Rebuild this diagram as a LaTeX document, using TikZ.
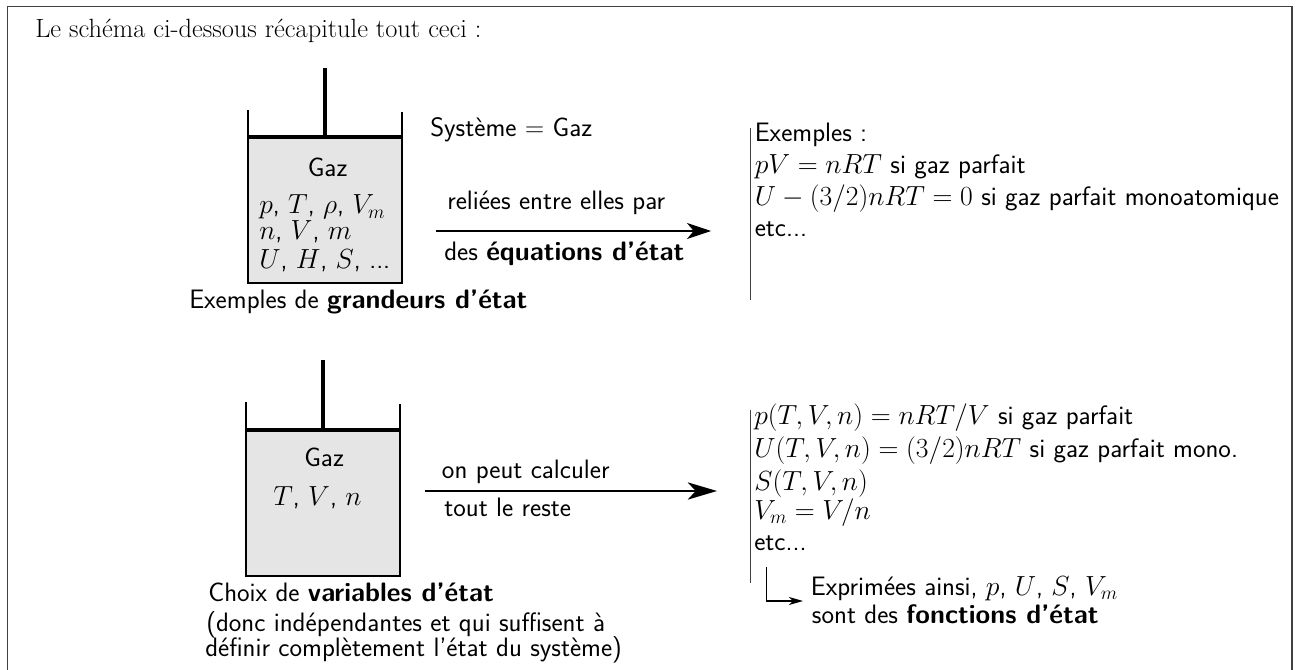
\documentclass[tikz,border=0pt]{standalone}
\usetikzlibrary{arrows.meta}
\definecolor{gasgrey}{gray}{0.9}
\tikzset{
  x=0.75pt,y=-0.75pt,
  txt/.style={inner sep=0pt,anchor=base west,font=\sffamily\fontsize{20}{24}\selectfont},
  serif/.style={inner sep=0pt,anchor=base west,font=\rmfamily\fontsize{19.8}{24}\selectfont},
  frameline/.style={draw=black!75,line width=0.9pt},
  cyl/.style={line width=1.6pt},
  piston/.style={line width=2.4pt},
  rule/.style={draw=black!75,line width=0.75pt},
  bigarrow/.style={line width=1.1pt,-{Stealth[length=18pt,width=12pt,inset=5pt]}},
  longarrow/.style={line width=1.1pt,-{Stealth[length=22pt,width=13pt,inset=6pt]}},
  smallarrow/.style={line width=1pt,-{Stealth[length=10.5pt,width=6pt,inset=3pt]}}
}
\begin{document}
\begin{tikzpicture}
\useasboundingbox (0,0) rectangle (1306,670);
\draw[frameline] (7.3,670) -- (7.3,6.7) -- (1292,6.7) -- (1292,670);
\node[serif] (intro) at (35,38) {Le schéma ci-dessous récapitule tout ceci :};
% top cylinder
\fill[gasgrey] (248,137) rectangle (402,283);
\draw[cyl] (248,110) -- (248,283) -- (402,283) -- (402,112);
\draw[piston] (248,137) -- (402,137);
\draw[piston] (325,68) -- (325,137);
\node[txt] (g1) at (307.5,176.7) {Gaz};
\node[txt] (g1a) at (259,214) {$p$, $T$, $\rho$, $V_m$};
\node[txt] (g1b) at (259,240) {$n$, $V$, $m$};
\node[txt] (g1c) at (259,268) {$U$, $H$, $S$, ...};
\node[txt] (ex) at (189,309) {Exemples de \textbf{grandeurs d'état}};
\node[txt] (sys) at (430,137) {Système = Gaz};
\node[txt] (rel) at (447,210) {reliées entre elles par};
\node[txt] (des) at (444,261) {des \textbf{équations d'état}};
\coordinate (a1s) at (436,231);
\coordinate (a1e) at (711,231);
\draw[bigarrow] (a1s) -- (a1e);
\draw[rule] (750,128) -- (750,300);
\node[txt] (e1) at (754.5,142) {Exemples :};
\node[txt] (e2) at (754.5,174) {$pV=nRT$ si gaz parfait};
\node[txt] (e3) at (754.5,206) {$U-(3/2)nRT=0$ si gaz parfait monoatomique};
\node[txt] (e4) at (754.5,237) {etc...};
% bottom cylinder
\fill[gasgrey] (246,430) rectangle (400,575.7);
\draw[cyl] (246,402) -- (246,575.7) -- (400,575.7) -- (400,404);
\draw[piston] (246,430) -- (400,430);
\draw[piston] (323,360) -- (323,430);
\node[txt] (g2) at (304,466.7) {Gaz};
\node[txt] (g2a) at (273,505) {$T$, $V$, $n$};
\node[txt] (ch) at (208,601.7) {Choix de \textbf{variables d'état}};
\node[txt] (ch2) at (206,631.7) {(donc indépendantes et qui suffisent à};
\node[txt] (ch3) at (205,656.7) {définir complètement l'état du système)};
\node[txt] (calc) at (441.7,478) {on peut calculer};
\node[txt] (rest) at (444,516.7) {tout le reste};
\coordinate (a2s) at (425,491);
\coordinate (a2e) at (717,491);
\draw[longarrow] (a2s) -- (a2e);
\draw[rule] (750.5,410) -- (750.5,583);
\node[txt] (f1) at (754,424) {$p(T,V,n)=nRT/V$ si gaz parfait};
\node[txt] (f2) at (754,457) {$U(T,V,n)=(3/2)nRT$ si gaz parfait mono.};
\node[txt] (f3) at (754,490) {$S(T,V,n)$};
\node[txt] (f4) at (754,519) {$V_m=V/n$};
\node[txt] (f5) at (754,550) {etc...};
\coordinate (b1) at (766.7,567);
\coordinate (b2) at (766.7,601);
\coordinate (b3) at (803,601);
\draw[smallarrow] (b1) -- (b2) -- (b3);
\node[txt] (h1) at (810.7,595) {Exprimées ainsi, $p$, $U$, $S$, $V_m$};
\node[txt] (h2) at (811.7,623) {sont des \textbf{fonctions d'état}};
\end{tikzpicture}
\end{document}
